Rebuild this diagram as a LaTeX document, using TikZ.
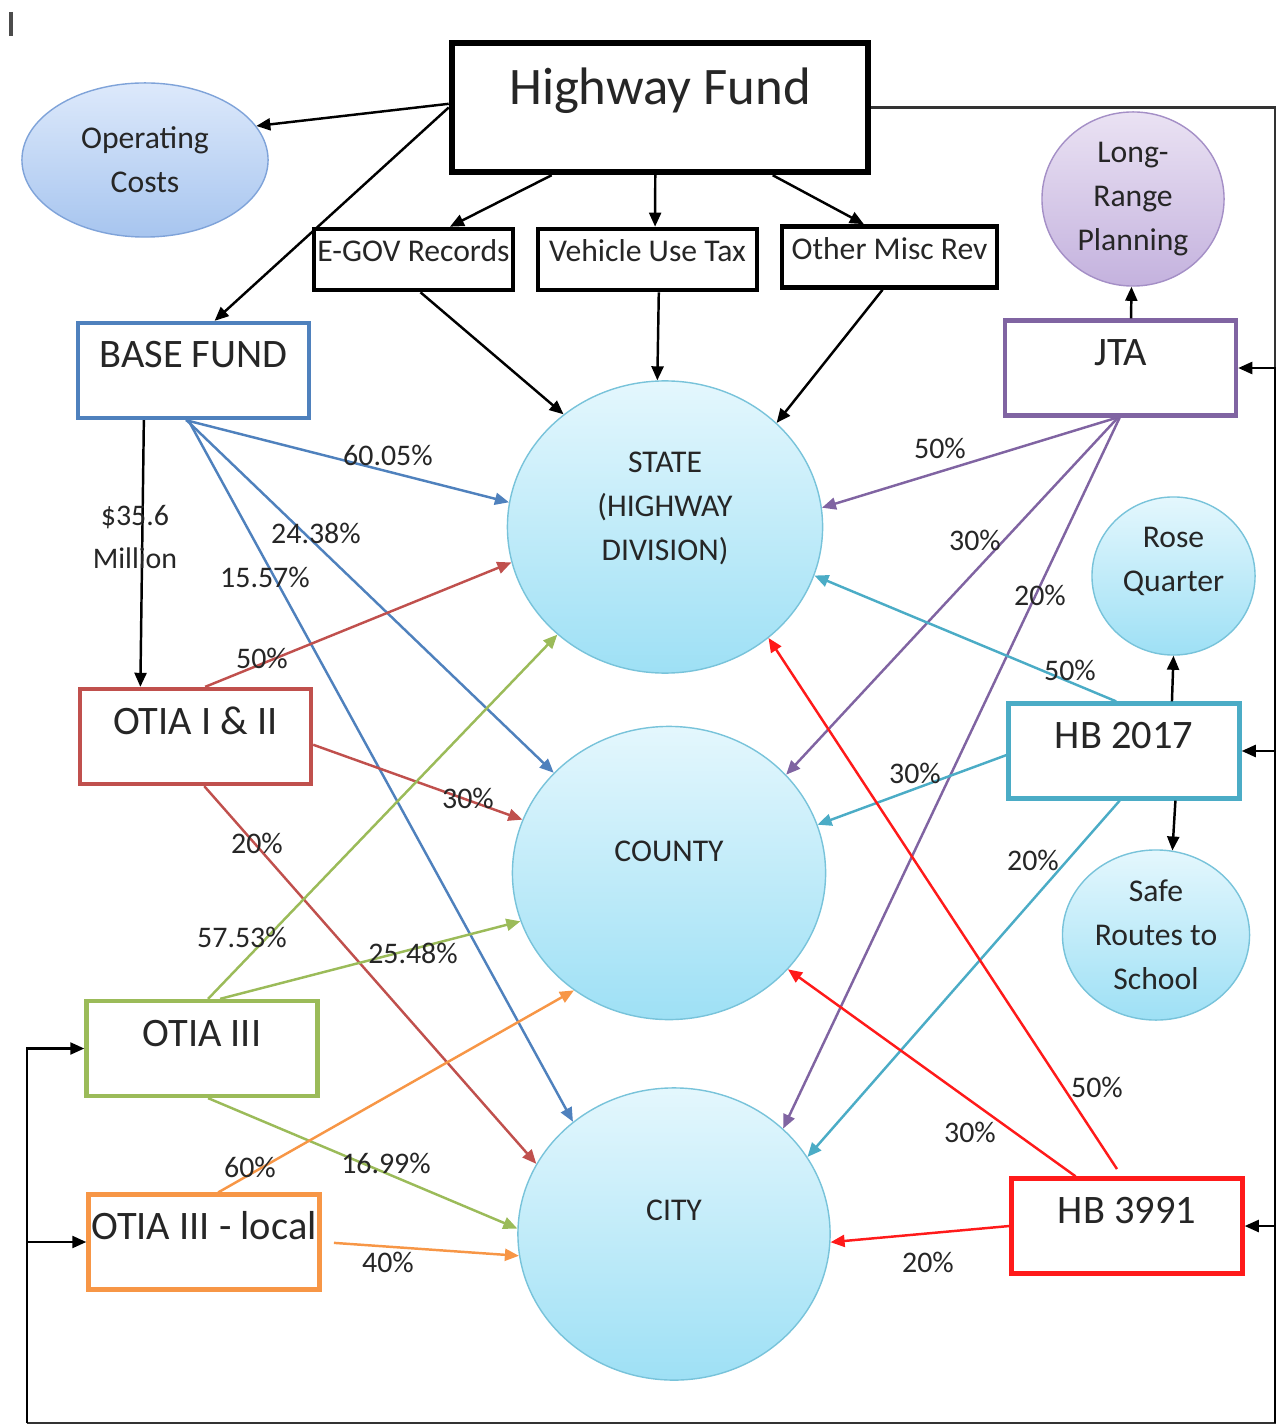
\documentclass[tikz,border=0pt]{standalone}
\usepackage{fontspec}
\setmainfont{Carlito}
\usepackage{tikz}
\usetikzlibrary{positioning, shapes, arrows.meta, calc}

\definecolor{basecol}{HTML}{4F81BD}
\definecolor{otiacol}{HTML}{C0504D}
\definecolor{greencol}{HTML}{9BBB59}
\definecolor{orangecol}{HTML}{F79646}
\definecolor{jtacol}{HTML}{8064A2}
\definecolor{hbcol}{HTML}{4BACC6}
\definecolor{hbred}{HTML}{FF1A1A}
\definecolor{skytop}{HTML}{E4F7FD}
\definecolor{skybot}{HTML}{9EE0F5}
\definecolor{skyline}{HTML}{78C3DA}
\definecolor{optop}{HTML}{DDE9FB}
\definecolor{opbot}{HTML}{A7C5EF}
\definecolor{opline}{HTML}{7FA3D9}
\definecolor{lrptop}{HTML}{EAE2F3}
\definecolor{lrpbot}{HTML}{C4B2DE}
\definecolor{lrpline}{HTML}{A48FC6}

\begin{document}
\begin{tikzpicture}[x=0.01cm, y=-0.01cm, text=black!85,
  fund/.style={draw, line width=1.2pt, inner sep=0pt, minimum width=2.31cm, text height=0.45cm, text depth=0.5cm, font=\fontsize{11.5}{13}\selectfont},
  srcbox/.style={draw, line width=1.3pt, inner sep=0pt, text height=0.33cm, text depth=0.28cm, font=\fontsize{9}{11}\selectfont},
  pot/.style={ellipse, draw=skyline, top color=skytop, bottom color=skybot, inner sep=0pt, align=center, font=\fontsize{9}{12.5}\selectfont},
  pct/.style={inner sep=0pt, font=\fontsize{8.5}{10}\selectfont},
  flow/.style={-{Triangle[length=4pt,width=3.4pt]}, line width=0.7pt}]
  \useasboundingbox (0,0) rectangle (1281,1428);
  \draw[line width=1pt, black!70] (11,12) -- (11,36);

  \node[srcbox, minimum width=4.16cm, text height=0.62cm, text depth=0.67cm, line width=1.8pt, font=\fontsize{15}{17}\selectfont] (hwy) at (660,107.5) {Highway Fund};
  \node[ellipse, draw=opline, top color=optop, bottom color=opbot, minimum width=2.46cm, minimum height=1.54cm, inner sep=0pt, align=center, font=\fontsize{9}{12.5}\selectfont] (opcost) at (145,160) {Operating\\Costs};
  \node[srcbox, minimum width=1.99cm] (egov) at (413.5,259.5) {E-GOV Records};
  \node[srcbox, minimum width=2.19cm] (vut) at (647.5,259.5) {Vehicle Use Tax};
  \node[srcbox, minimum width=2.15cm] (misc) at (889.5,257) {Other Misc Rev};

  \node[fund, draw=basecol] (base) at (193.5,370.5) {BASE FUND};
  \node[fund, draw=jtacol] (jta) at (1120.5,368) {JTA};
  \node[fund, draw=otiacol] (otia12) at (195.5,736.5) {OTIA I \& II};
  \node[fund, draw=hbcol] (hb2017) at (1124,751) {HB 2017};
  \node[fund, draw=greencol] (otia3) at (202,1048.5) {OTIA III};
  \node[fund, draw=orangecol] (otialoc) at (204,1242) {OTIA III - local};
  \node[fund, draw=hbred] (hb3991) at (1127,1226) {HB 3991};

  \node[pot, minimum width=3.15cm, minimum height=2.92cm, text height=0.96cm, text depth=0.3cm] (state) at (665,527) {STATE\\(HIGHWAY\\DIVISION)};
  \node[pot, minimum width=3.13cm, minimum height=2.93cm, text height=0.3cm, text depth=0.52cm] (county) at (669,873) {COUNTY};
  \node[pot, minimum width=3.12cm, minimum height=2.92cm, text height=0.3cm, text depth=0.58cm] (city) at (674,1234) {CITY};
  \node[pot, minimum width=1.63cm, minimum height=1.58cm, text height=0.6cm, text depth=0.3cm] (rose) at (1173.5,576) {Rose\\Quarter};
  \node[pot, minimum width=1.87cm, minimum height=1.70cm] (safe) at (1156,935) {Safe\\Routes to\\School};
  \node[pot, draw=lrpline, top color=lrptop, bottom color=lrpbot, minimum width=1.82cm, minimum height=1.74cm] (lrp) at (1133,199) {Long-\\Range\\Planning};

  \draw[flow] (hwy.179) -- (opcost.17);
  \draw[flow] (hwy.west) -- (base.67);
  \draw[flow] (hwy.212) -- (egov.42);
  \draw[flow] (hwy.266) -- (vut.77);
  \draw[flow] (hwy.329) -- (misc.128);
  \draw[flow] (egov.282) -- (state.132);
  \draw[flow] (vut.289) -- (state.93);
  \draw[flow] (misc.258) -- (state.43);
  \draw[flow] (base.225) -- (otia12.138);
  \draw[flow] (jta.78) -- (lrp.269);
  \draw[flow] (hb2017.46) -- (rose.270);
  \draw[flow] (hb2017.316) -- (safe.79);

  \draw[flow, basecol] (base.261) -- (state.171);
  \draw[flow, basecol] (base.262) -- (county.139);
  \draw[flow, basecol] (base.264) -- (city.132);
  \draw[flow, otiacol] (otia12.79) -- (state.193);
  \draw[flow, otiacol] (otia12.356) -- (county.160);
  \draw[flow, otiacol] (otia12.280) -- (city.153);
  \draw[flow, greencol] (otia3.83) -- (state.225);
  \draw[flow, greencol] (otia3.70) -- (county.198);
  \draw[flow, greencol] (otia3.277) -- (city.178);
  \draw[flow, orangecol] (otialoc.74) -- (county.231);
  \draw[flow, orangecol, shorten <=3.5pt] (otialoc.east) -- (city.188);
  \draw[flow, jtacol] (jta.266) -- (state.7);
  \draw[flow, jtacol] (jta.267) -- (county.40);
  \draw[flow, jtacol] (jta.269) -- (city.44);
  \draw[flow, hbcol] (hb2017.99) -- (state.342);
  \draw[flow, hbcol] (hb2017.182) -- (county.18);
  \draw[flow, hbcol] (hb2017.265) -- (city.30);
  \draw[flow, hbred, shorten <=2.5pt] (hb3991.96) -- (state.313);
  \draw[flow, hbred] (hb3991.136) -- (county.321);
  \draw[flow, hbred] (hb3991.180) -- (city.357);

  \coordinate (cr) at (1275,1423);
  \coordinate (cl) at (27,1423);
  \draw[line width=0.8pt, black!80] (hwy.east) -| (cr) -- (cl);
  \draw[flow] (cl) |- (otia3.west);
  \draw[flow] (cl) |- (otialoc.west);
  \draw[flow] (cr) |- (jta.east);
  \draw[flow] (cr) |- (hb2017.east);
  \draw[flow] (cr) |- (hb3991.east);

  \node[pct, align=center, font=\fontsize{8.5}{12.3}\selectfont] (mil) at (135,537) {\$35.6\\Million};
  \node[pct] (b1) at (388,455) {60.05\%};
  \node[pct] (b2) at (316,533) {24.38\%};
  \node[pct] (b3) at (265,577) {15.57\%};
  \node[pct] (r1) at (262,658) {50\%};
  \node[pct] (r2) at (468,798) {30\%};
  \node[pct] (r3) at (257,843) {20\%};
  \node[pct] (g1) at (242,937) {57.53\%};
  \node[pct] (g2) at (413,953) {25.48\%};
  \node[pct] (g3) at (386,1163) {16.99\%};
  \node[pct] (o1) at (250,1167) {60\%};
  \node[pct] (o2) at (388,1262) {40\%};
  \node[pct] (j1) at (940,448) {50\%};
  \node[pct] (j2) at (975,540) {30\%};
  \node[pct] (j3) at (1040,595) {20\%};
  \node[pct] (t1) at (1070,670) {50\%};
  \node[pct] (t2) at (915,773) {30\%};
  \node[pct] (t3) at (1033,860) {20\%};
  \node[pct] (h1) at (1097,1087) {50\%};
  \node[pct] (h2) at (970,1132) {30\%};
  \node[pct] (h3) at (928,1262) {20\%};
\end{tikzpicture}
\end{document}
